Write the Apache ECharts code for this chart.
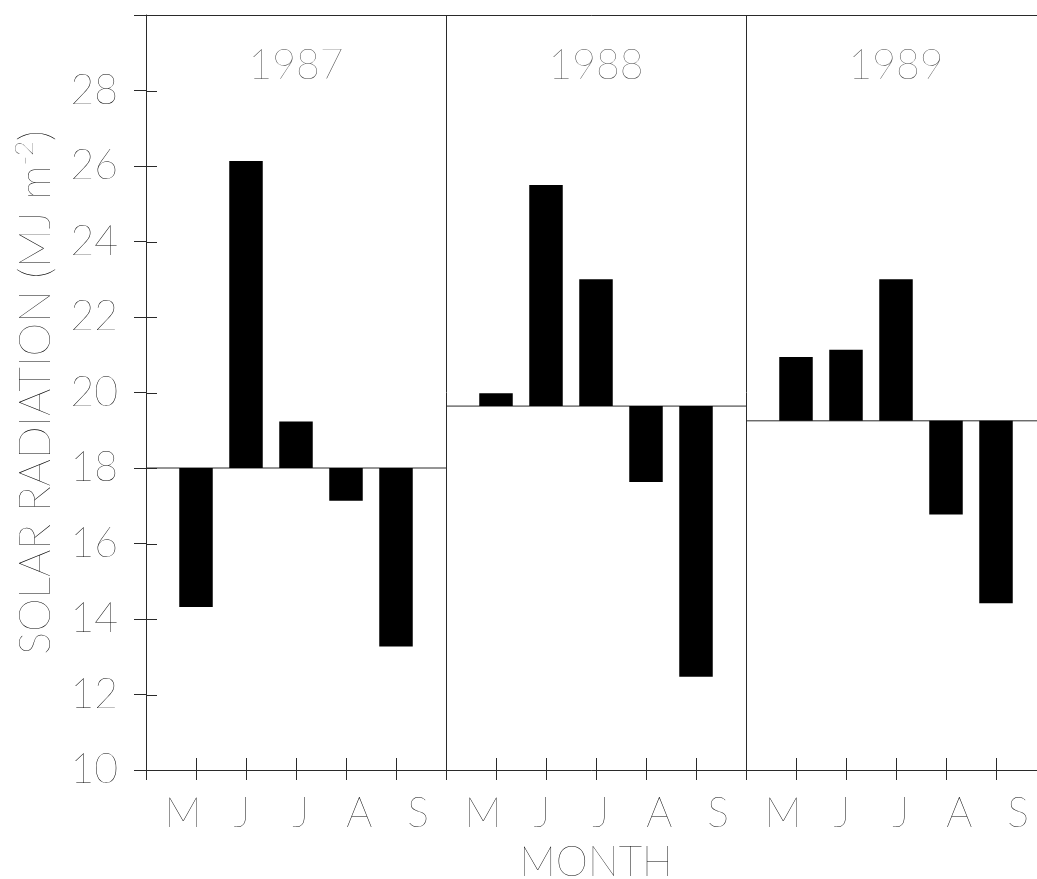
<!DOCTYPE html>
<html>
<head>
<meta charset="utf-8">
<script src="https://cdn.jsdelivr.net/npm/echarts@6/dist/echarts.min.js"></script>
<style>
  html, body { margin: 0; padding: 0; background: #fff; }
  #chart { width: 1037px; height: 879px; }
</style>
</head>
<body>
<div id="chart"></div>
<script>
// Monthly mean daily solar radiation (MJ m^-2), May–September, three seasons.
const years = ['1987', '1988', '1989'];
const months = ['M', 'J', 'J', 'A', 'S'];
// Seasonal mean for each year, drawn as the reference line of each panel
const seasonMean = [18.0, 19.64, 19.25];
const rad1987 = [14.32, 26.13, 19.23, 17.13, 13.27];
const rad1988 = [19.98, 25.50, 23.00, 17.63, 12.47];
const rad1989 = [20.94, 21.13, 23.00, 16.77, 14.42];
const yTickLabels = ['10', '12', '14', '16', '18', '20', '22', '24', '26', '28'];

const radByYear = [rad1987, rad1988, rad1989];

// Layout constants: each panel spans 6 units on the shared x scale,
// months sit at units 1..5 inside their panel.
const PANEL = 6;
const FONT = 'Lato, "DejaVu Sans", sans-serif';
const WEIGHT = 100;
const INK = '#2a2a2a';
const TEXT = '#000';

const barData = [];
radByYear.forEach((vals, p) => {
  vals.forEach((v, i) => barData.push([p * PANEL + i + 1, v, seasonMean[p]]));
});

const meanLines = seasonMean.map((m, p) => ({
  type: 'line',
  xAxisIndex: 0,
  yAxisIndex: 0,
  data: [[p * PANEL, m], [p * PANEL + PANEL, m]],
  symbol: 'none',
  silent: true,
  lineStyle: { color: INK, width: 1 },
  z: 3
}));

// Month ticks (crossing above the axis) and month label positions
const monthTickValues = [];
const monthLabelValues = [];
const monthLabelText = {};
years.forEach((y, p) => {
  months.forEach((m, i) => {
    monthTickValues.push(p * PANEL + i + 1);
    const lv = +(p * PANEL + 0.74 + 1.175 * i).toFixed(3);
    monthLabelValues.push(lv);
    monthLabelText[lv.toFixed(3)] = m;
  });
});

// Inner halves of the crossing y ticks, one per labelled value
const innerTickData = yTickLabels.map(t => [0, +t]);

const yearLabelData = years.map((y, p) => ({ value: [p * PANEL + PANEL / 2, 28.65], name: y }));

const baseX = {
  type: 'value', min: 0, max: 18, position: 'bottom', gridIndex: 0,
  axisLine: { show: false }, axisTick: { show: false },
  axisLabel: { show: false }, splitLine: { show: false }
};

const chart = echarts.init(document.getElementById('chart'), null, { renderer: 'canvas' });

chart.setOption({
  backgroundColor: '#fff',
  animation: false,
  grid: { left: 146, top: 15, width: 900, height: 755, outerBoundsMode: 'none', containLabel: false },
  xAxis: [
    // main axis line + panel separators
    Object.assign({}, baseX, {
      interval: PANEL,
      axisLine: { show: true, onZero: false, lineStyle: { color: INK, width: 1 } },
      splitLine: { show: true, lineStyle: { color: INK, width: 1 } },
      name: 'MONTH',
      nameLocation: 'middle',
      nameGap: 72,
      nameTextStyle: { fontFamily: FONT, fontWeight: WEIGHT, fontSize: 41, color: TEXT }
    }),
    // short outside ticks at every unit
    Object.assign({}, baseX, {
      interval: 1,
      axisTick: { show: true, inside: false, length: 10, lineStyle: { color: INK, width: 1 } }
    }),
    // inside ticks at the months
    Object.assign({}, baseX, {
      axisTick: { show: true, inside: true, length: 12, customValues: monthTickValues,
        lineStyle: { color: INK, width: 1 } }
    }),
    // month letters
    Object.assign({}, baseX, {
      axisLabel: {
        show: true, customValues: monthLabelValues, margin: 23,
        fontFamily: FONT, fontWeight: WEIGHT, fontSize: 41, color: TEXT,
        formatter: v => monthLabelText[(+v).toFixed(3)] || ''
      }
    }),
    // top frame
    Object.assign({}, baseX, {
      position: 'top',
      axisLine: { show: true, onZero: false, lineStyle: { color: INK, width: 1 } }
    })
  ],
  yAxis: [
    {
      type: 'value', min: 10, max: 30, interval: 2, position: 'left',
      axisLine: { show: true, onZero: false, lineStyle: { color: INK, width: 1 } },
      axisTick: { show: true, inside: false, length: 12, lineStyle: { color: INK, width: 1 } },
      axisLabel: {
        margin: 28, fontFamily: FONT, fontWeight: WEIGHT, fontSize: 41, color: TEXT,
        formatter: v => {
          const idx = Math.round((v - 10) / 2);
          return yTickLabels[idx] || '';
        }
      },
      splitLine: { show: false },
      name: 'SOLAR RADIATION (MJ m{sup|-2})',
      nameLocation: 'middle',
      nameGap: 86,
      nameRotate: 90,
      nameTextStyle: {
        fontFamily: FONT, fontWeight: WEIGHT, fontSize: 43, color: TEXT,
        rich: {
          sup: { fontFamily: FONT, fontWeight: WEIGHT, fontSize: 26, color: TEXT, padding: [0, 0, 22, 0] }
        }
      }
    }
  ],
  series: [
    {
      type: 'custom',
      xAxisIndex: 0,
      yAxisIndex: 0,
      data: barData,
      z: 4,
      renderItem: (params, api) => {
        const x = api.value(0);
        const top = api.coord([x, api.value(1)]);
        const base = api.coord([x, api.value(2)]);
        const w = api.size([0.67, 0])[0];
        return {
          type: 'rect',
          shape: {
            x: top[0] - w / 2,
            y: Math.min(top[1], base[1]),
            width: w,
            height: Math.abs(top[1] - base[1])
          },
          style: { fill: '#000' }
        };
      }
    },
    {
      // inner half of each y tick, continuing the outside tick across the axis
      type: 'custom',
      xAxisIndex: 0,
      yAxisIndex: 0,
      data: innerTickData,
      silent: true,
      clip: false,
      z: 2,
      renderItem: (params, api) => {
        const p = api.coord([api.value(0), api.value(1)]);
        const y = Math.round(p[1]) + 0.5;
        return {
          type: 'line',
          shape: { x1: p[0], y1: y, x2: p[0] + 11, y2: y },
          style: { stroke: INK, lineWidth: 1 }
        };
      }
    },
    ...meanLines,
    {
      type: 'scatter',
      xAxisIndex: 0,
      yAxisIndex: 0,
      symbolSize: 0,
      silent: true,
      data: yearLabelData,
      label: {
        show: true, position: 'inside',
        formatter: p => p.name,
        fontFamily: FONT, fontWeight: WEIGHT, fontSize: 41, color: TEXT
      }
    }
  ]
});
</script>
</body>
</html>
